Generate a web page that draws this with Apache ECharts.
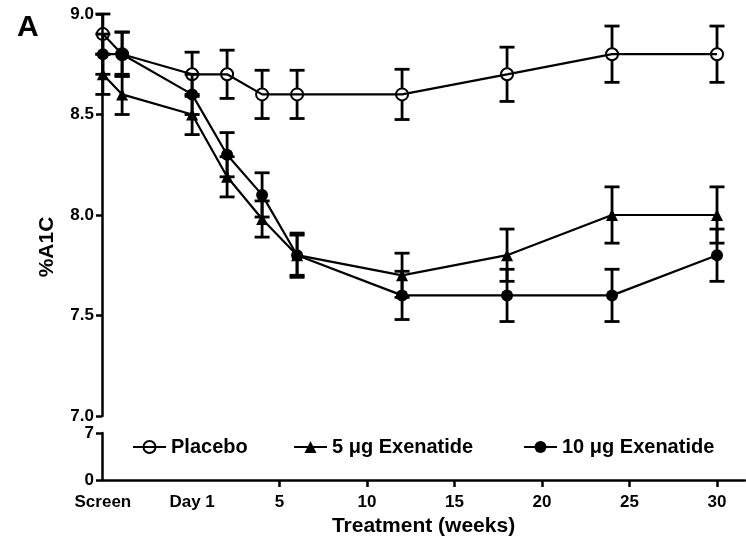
<!DOCTYPE html>
<html>
<head>
<meta charset="utf-8">
<script src="https://cdn.jsdelivr.net/npm/echarts@6/dist/echarts.min.js"></script>
<style>
  html, body { margin: 0; padding: 0; background: #fff; }
  #chart { width: 746px; height: 545px; }
</style>
</head>
<body>
<div id="chart"></div>
<script>
// Time points in weeks relative to Day 1 (Screen and lead-in come before 0)
const weeks = [-5.1, -4, 0, 2, 4, 6, 12, 18, 24, 30];

// Mean %A1C and standard errors per arm
const placebo    = [8.9, 8.8, 8.7, 8.7, 8.6, 8.6, 8.6, 8.7, 8.8, 8.8];
const placeboSE  = [0.10, 0.11, 0.11, 0.12, 0.12, 0.12, 0.125, 0.135, 0.14, 0.14];
const exen5      = [8.7, 8.6, 8.5, 8.19, 7.98, 7.8, 7.7, 7.8, 8.0, 8.0];
const exen5SE    = [0.10, 0.10, 0.10, 0.10, 0.09, 0.10, 0.11, 0.13, 0.14, 0.14];
const exen10     = [8.8, 8.8, 8.6, 8.3, 8.1, 7.8, 7.6, 7.6, 7.6, 7.8];
const exen10SE   = [0.10, 0.11, 0.10, 0.11, 0.11, 0.11, 0.12, 0.13, 0.13, 0.13];

// Axis ticks and labels
const xLabelValues = [-5.1, 0, 5, 10, 15, 20, 25, 30];
const xTickValues  = [5, 10, 15, 20, 25, 30];
const xLabelNames  = { '-5.1': 'Screen', '0': 'Day 1' };

const FONT = "'Liberation Sans', Arial, Helvetica, sans-serif";
const X_MIN = -5.15, X_MAX = 31.6;

const chart = echarts.init(document.getElementById('chart'), null, { renderer: 'canvas' });

function pairs(vals) {
  return weeks.map((w, i) => [w, vals[i]]);
}

// Vertical error bars with caps; gap leaves the hollow marker clear
function errorSeries(vals, se, gap) {
  return {
    type: 'custom',
    xAxisIndex: 0,
    yAxisIndex: 0,
    z: 1,
    silent: true,
    clip: false,
    data: weeks.map((w, i) => [w, vals[i] - se[i], vals[i] + se[i], vals[i]]),
    encode: { x: 0, y: [1, 2, 3] },
    renderItem: function (params, api) {
      const xv = api.value(0);
      const lo = api.coord([xv, api.value(1)]);
      const hi = api.coord([xv, api.value(2)]);
      const mid = api.coord([xv, api.value(3)]);
      const x = lo[0];
      const half = 7.5;
      const style = { stroke: '#000', lineWidth: 2.8, fill: null };
      return {
        type: 'group',
        children: [
          { type: 'line', shape: { x1: x, y1: hi[1], x2: x, y2: mid[1] - gap }, style: style },
          { type: 'line', shape: { x1: x, y1: mid[1] + gap, x2: x, y2: lo[1] }, style: style },
          { type: 'line', shape: { x1: x - half, y1: hi[1], x2: x + half, y2: hi[1] }, style: style },
          { type: 'line', shape: { x1: x - half, y1: lo[1], x2: x + half, y2: lo[1] }, style: style }
        ]
      };
    }
  };
}

const axisLineStyle = { color: '#000', width: 2.5 };
const labelStyle = { color: '#000', fontFamily: FONT, fontWeight: 'bold', fontSize: 17 };

const legendBase = {
  orient: 'horizontal',
  top: 437,
  padding: 0,
  itemWidth: 33,
  itemHeight: 15,
  itemGap: 0,
  selectedMode: false,
  textStyle: { color: '#000', fontFamily: FONT, fontWeight: 'bold', fontSize: 20 }
};

const option = {
  backgroundColor: '#fff',
  animation: false,
  title: {
    text: 'A',
    left: 12,
    top: 8,
    textStyle: { color: '#000', fontFamily: FONT, fontWeight: 'bold', fontSize: 30 }
  },
  legend: [
    Object.assign({}, legendBase, { left: 132, data: ['Placebo'] }),
    Object.assign({}, legendBase, { left: 293, data: ['5 \u03bcg Exenatide'] }),
    Object.assign({}, legendBase, { left: 523, data: ['10 \u03bcg Exenatide'] })
  ],
  grid: [
    { left: 102, right: 1, top: 14, height: 402 },
    { left: 102, right: 1, top: 433, height: 47 },
    { left: 102, right: 1, top: 14, height: 466 }
  ],
  xAxis: [
    { type: 'value', gridIndex: 0, min: X_MIN, max: X_MAX, show: false },
    {
      type: 'value', gridIndex: 1, min: X_MIN, max: X_MAX,
      axisLine: { show: true, onZero: false, lineStyle: axisLineStyle },
      axisTick: { show: true, customValues: xTickValues, length: 7, lineStyle: { color: '#000', width: 2.5 } },
      axisLabel: Object.assign({
        customValues: xLabelValues,
        margin: 14,
        formatter: function (v) {
          const key = String(Math.round(v * 10) / 10);
          return xLabelNames[key] !== undefined ? xLabelNames[key] : String(Math.round(v));
        }
      }, labelStyle),
      splitLine: { show: false },
      name: 'Treatment (weeks)',
      nameLocation: 'middle',
      nameGap: 36,
      nameTextStyle: { color: '#000', fontFamily: FONT, fontWeight: 'bold', fontSize: 21 }
    },
    { type: 'value', gridIndex: 2, min: X_MIN, max: X_MAX, show: false }
  ],
  yAxis: [
    {
      type: 'value', gridIndex: 0, min: 7, max: 9, interval: 0.5,
      axisLine: { show: true, onZero: false, lineStyle: axisLineStyle },
      axisTick: { show: true, length: 6, lineStyle: { color: '#000', width: 2.5 } },
      axisLabel: Object.assign({ margin: 8, formatter: v => v.toFixed(1) }, labelStyle),
      splitLine: { show: false }
    },
    {
      type: 'value', gridIndex: 1, min: 0, max: 7, interval: 7,
      axisLine: { show: true, onZero: false, lineStyle: axisLineStyle },
      axisTick: { show: true, length: 6, lineStyle: { color: '#000', width: 2.5 } },
      axisLabel: Object.assign({ margin: 8 }, labelStyle),
      splitLine: { show: false }
    },
    {
      type: 'value', gridIndex: 2, min: 0, max: 1,
      axisLine: { show: false, onZero: false }, axisTick: { show: false },
      axisLabel: { show: false }, splitLine: { show: false },
      name: '%A1C',
      nameLocation: 'middle',
      nameGap: 44,
      nameTextStyle: { color: '#000', fontFamily: FONT, fontWeight: 'bold', fontSize: 21 }
    }
  ],
  series: [
    errorSeries(placebo, placeboSE, 6),
    errorSeries(exen5, exen5SE, 0),
    errorSeries(exen10, exen10SE, 0),
    {
      name: 'Placebo',
      type: 'line',
      xAxisIndex: 0, yAxisIndex: 0,
      data: pairs(placebo),
      symbol: 'circle',
      symbolSize: 12,
      clip: false,
      z: 3,
      lineStyle: { color: '#000', width: 2.2 },
      itemStyle: { color: 'rgba(255,255,255,0)', borderColor: '#000', borderWidth: 2 }
    },
    {
      name: '5 \u03bcg Exenatide',
      type: 'line',
      xAxisIndex: 0, yAxisIndex: 0,
      data: pairs(exen5),
      symbol: 'triangle',
      symbolSize: 12,
      clip: false,
      z: 3,
      lineStyle: { color: '#000', width: 2.2 },
      itemStyle: { color: '#000' }
    },
    {
      name: '10 \u03bcg Exenatide',
      type: 'line',
      xAxisIndex: 0, yAxisIndex: 0,
      data: pairs(exen10),
      symbol: 'circle',
      symbolSize: 12,
      clip: false,
      z: 3,
      lineStyle: { color: '#000', width: 2.2 },
      itemStyle: { color: '#000' }
    }
  ]
};

chart.setOption(option);
</script>
</body>
</html>
